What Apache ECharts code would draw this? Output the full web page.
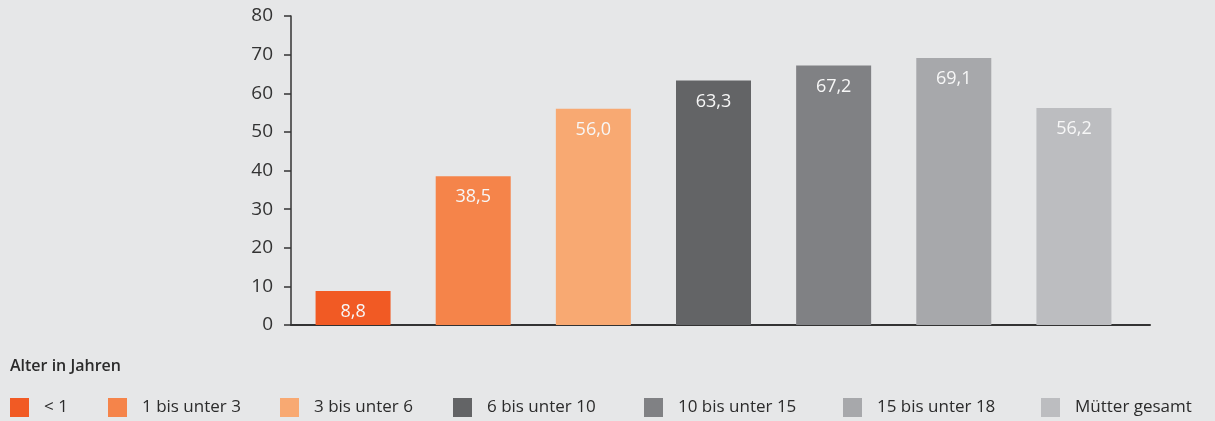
<!DOCTYPE html>
<html lang="de">
<head>
    <meta charset="UTF-8">
    <title>Alter in Jahren</title>
    <script src="https://cdn.jsdelivr.net/npm/echarts@6/dist/echarts.min.js"></script>
    <style>
        html, body { margin: 0; padding: 0; background: #e6e7e8; }
        #chart { width: 1215px; height: 421px; }
    </style>
</head>
<body>
<div id="chart"></div>
<script>
    // data
    var categories = ['< 1', '1 bis unter 3', '3 bis unter 6', '6 bis unter 10', '10 bis unter 15', '15 bis unter 18', 'Mütter gesamt'];
    var values = [8.8, 38.5, 56.0, 63.3, 67.2, 69.1, 56.2];
    var yTicks = [0, 10, 20, 30, 40, 50, 60, 70, 80];

    var colors = ['#f15a24', '#f5844a', '#f8a972', '#636466', '#808184', '#a7a8ab', '#bcbdc0'];
    var legendLeft = [5, 103, 275, 448, 639, 838, 1036];
    var font = '"Open Sans", sans-serif';

    var chart = echarts.init(document.getElementById('chart'));

    var series = categories.map(function (name, i) {
        return {
            name: name,
            type: 'bar',
            stack: 'all',
            xAxisIndex: 1,
            yAxisIndex: 1,
            barWidth: 75,
            itemStyle: {color: colors[i]},
            label: {
                show: true,
                position: 'insideTop',
                distance: 12,
                color: '#f7f7f7',
                fontFamily: font,
                fontSize: 18,
                fontWeight: 500,
                formatter: function (p) {
                    return p.value.toFixed(1).replace('.', ',');
                }
            },
            data: categories.map(function (c, j) { return j === i ? values[i] : '-'; })
        };
    });

    // one legend per item so they sit where the original has them
    var legends = categories.map(function (name, i) {
        return {
            data: [name],
            left: legendLeft[i],
            top: 393,
            itemWidth: 19,
            itemHeight: 19,
            icon: 'rect',
            selectedMode: false,
            textStyle: {
                fontFamily: font,
                fontSize: 17,
                color: '#2b2b2b',
                padding: [0, 0, 0, 10]
            }
        };
    });

    var option = {
        backgroundColor: '#e6e7e8',
        animation: false,
        title: {
            text: 'Alter in Jahren',
            left: 5,
            top: 353,
            textStyle: {fontFamily: font, fontSize: 16, fontWeight: 600, color: '#2b2b2b'}
        },
        legend: legends,
        grid: [
            {left: 291, top: 16, width: 859, height: 309},
            {left: 293, top: 16, width: 841, height: 309}
        ],
        xAxis: [
            {
                gridIndex: 0, type: 'value', min: 0, max: 1,
                axisLine: {show: true, lineStyle: {color: '#333', width: 2}},
                axisTick: {show: false}, axisLabel: {show: false}, splitLine: {show: false}
            },
            {
                gridIndex: 1, type: 'category', data: categories,
                axisLine: {show: false}, axisTick: {show: false}, axisLabel: {show: false}
            }
        ],
        yAxis: [
            {
                gridIndex: 0, type: 'value',
                min: yTicks[0], max: yTicks[yTicks.length - 1], interval: 10,
                axisLine: {show: true, lineStyle: {color: '#333', width: 1.5}},
                axisTick: {show: true, length: 7, lineStyle: {color: '#333', width: 1.5}},
                axisLabel: {fontFamily: font, fontSize: 19, color: '#333', margin: 18},
                splitLine: {show: false}
            },
            {
                gridIndex: 1, type: 'value', min: 0, max: 80, show: false
            }
        ],
        series: series
    };

    chart.setOption(option);
</script>
</body>
</html>
